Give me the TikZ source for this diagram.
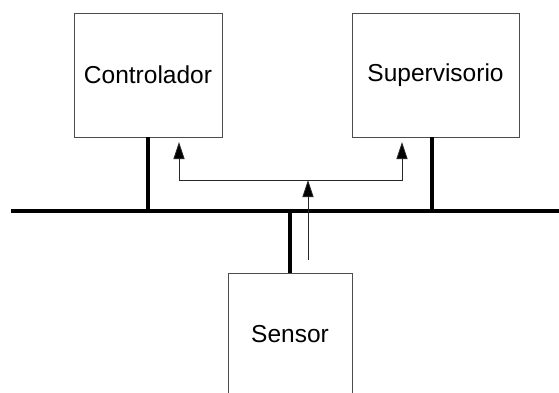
\documentclass[tikz,border=0pt]{standalone}
\usepackage{fontspec}
\setmainfont{Liberation Sans}
\usetikzlibrary{arrows.meta}

\tikzset{
  block/.style={draw=black!70, line width=0.8pt, fill=white, inner sep=0pt,
    font=\fontsize{24.5}{28}\selectfont},
  busline/.style={line width=3.5pt},
  flow/.style={draw=black!85, line width=0.8pt, -{Triangle[length=17pt,width=11pt,fill=black]}}
}

\begin{document}
\begin{tikzpicture}[x=1pt, y=-1pt]
			\useasboundingbox (0,0) rectangle (559,392);
			
			\node[block, minimum width=148pt, minimum height=124pt] (ctrl) at (148,75) {Controlador};
			\node[block, minimum width=167pt, minimum height=124pt] (sup) at (435.5,75) {Supervisorio};
			\node[block, minimum width=124pt, minimum height=122pt] (sensor) at (290,334) {Sensor};
			
			% barramento
			\coordinate (busL) at (11,211);
			\coordinate (busR) at (559,211);
			\draw[busline] (busL) -- (busR);
			\draw[busline] (ctrl.south) -- (ctrl.south |- busL);
			\draw[busline] ([xshift=-3.5pt]sup.south) -- ([xshift=-3.5pt]sup.south |- busL);
			\draw[busline] (sensor.north) -- (sensor.north |- busL);
			
			% fluxo de dados
			\coordinate (senout) at (308,260);
			\coordinate (junc) at (308,180);
			\coordinate (ctrlin) at (179,142);
			\coordinate (supin) at (402,142);
			\draw[flow] (senout) -- (junc);
			\draw[flow] (junc) -| (ctrlin);
			\draw[flow] (junc) -| (supin);
		\end{tikzpicture}
\end{document}
